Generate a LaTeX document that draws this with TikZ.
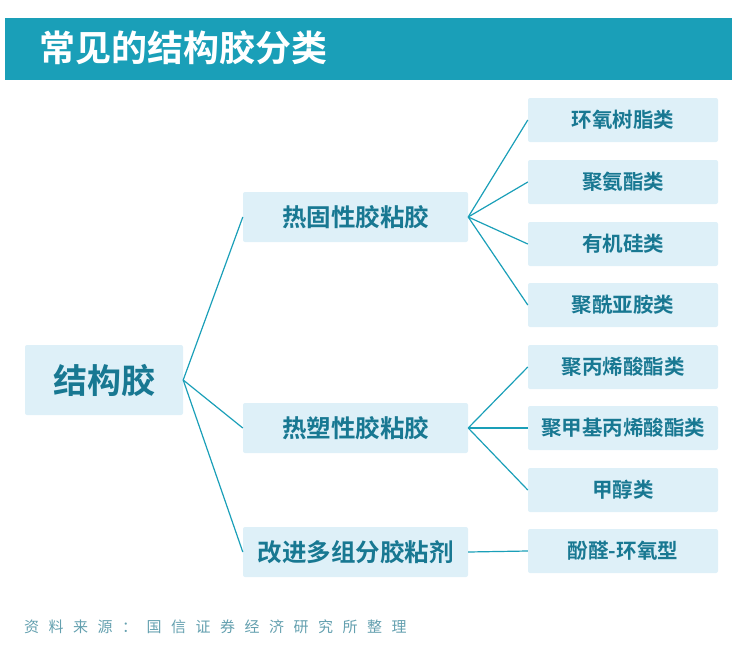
\documentclass[tikz,border=0pt]{standalone}
\usepackage{fontspec}
\setmainfont{Noto Sans CJK SC}
\newfontfamily\cjkbold{Noto Sans CJK SC Bold}
\definecolor{teal1}{RGB}{26, 159, 184}
\definecolor{box1}{RGB}{222, 240, 248}
\definecolor{text1}{RGB}{24, 120, 146}
\definecolor{gray1}{RGB}{100, 160, 175}
\tikzset{
  leaf/.style={rectangle,fill=box1,rounded corners=2pt,minimum width=190pt,minimum height=44pt,
    text=text1,inner sep=1pt,font=\cjkbold\fontsize{20.5}{20.5}\selectfont},
  mid/.style={leaf,minimum width=225pt,minimum height=50pt,font=\cjkbold\fontsize{24.5}{24.5}\selectfont},
  link/.style={draw=teal1,line width=1.2pt}
}
\newcommand{\srcgap}{\hspace{9.5pt}}
\begin{document}
\begin{tikzpicture}[x=1pt,y=-1pt]
  \useasboundingbox (0,0) rectangle (737,651);
  \fill[teal1] (5,18) rectangle (732,80);
  \node[anchor=west,text=white,inner sep=0pt,font=\cjkbold\fontsize{36}{36}\selectfont] (title) at (39,48) {常见的结构胶分类};

  \node[leaf,minimum width=158pt,minimum height=70pt,font=\cjkbold\fontsize{34}{34}\selectfont] (root) at (104,380) {结构胶};

  \node[mid] (m1) at (355.5,217) {热固性胶粘胶};
  \node[mid] (m2) at (355.5,428) {热塑性胶粘胶};
  \node[mid] (m3) at (355.5,552) {改进多组分胶粘剂};

  \node[leaf] (r1) at (623,120) {环氧树脂类};
  \node[leaf] (r2) at (623,182) {聚氨酯类};
  \node[leaf] (r3) at (623,244) {有机硅类};
  \node[leaf] (r4) at (623,305) {聚酰亚胺类};
  \node[leaf] (r5) at (623,367) {聚丙烯酸酯类};
  \node[leaf] (r6) at (623,428) {聚甲基丙烯酸酯类};
  \node[leaf] (r7) at (623,490) {甲醇类};
  \node[leaf] (r8) at (623,551) {酚醛-环氧型};

  \foreach \to in {m1,m2,m3}
    \draw[link] (root.east) -- (\to.west);
  \foreach \to in {r1,r2,r3,r4}
    \draw[link] (m1.east) -- (\to.west);
  \foreach \to in {r5,r6,r7}
    \draw[link] (m2.east) -- (\to.west);
  \draw[link] (m3.east) -- (r8.west);

  \node[anchor=west,text=gray1,inner sep=0pt,font=\fontsize{15}{15}\selectfont] (src) at (24,627)
    {资\srcgap 料\srcgap 来\srcgap 源\srcgap ：\srcgap 国\srcgap 信\srcgap 证\srcgap 券\srcgap 经\srcgap 济\srcgap 研\srcgap 究\srcgap 所\srcgap 整\srcgap 理};
\end{tikzpicture}
\end{document}
